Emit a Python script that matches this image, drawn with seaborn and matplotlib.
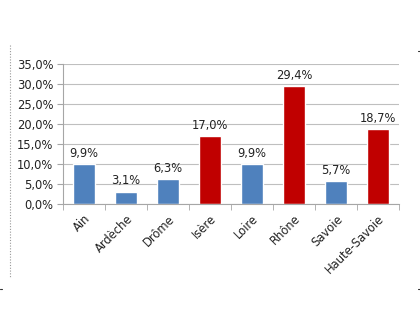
import matplotlib
matplotlib.use("Agg")
import matplotlib.pyplot as plt
import seaborn as sns
import pandas as pd
import numpy as np
from matplotlib.lines import Line2D

departements = ["Ain", "Ardèche", "Drôme", "Isère", "Loire", "Rhône", "Savoie", "Haute-Savoie"]
valeurs = [9.9, 3.1, 6.3, 17.0, 9.9, 29.4, 5.7, 18.7]
groupes = ["b", "b", "b", "r", "b", "r", "b", "r"]
yticks = [0, 5, 10, 15, 20, 25, 30, 35]

sns.set_style("white")
plt.rcParams['font.family'] = ['DejaVu Sans']
FS = 8.3

df = pd.DataFrame({"dep": departements, "val": valeurs, "grp": groupes})
fig = plt.figure(figsize=(4.2, 3.11), dpi=100)
ax = fig.add_axes([0.15, 0.344, 0.80, 0.45])
sns.barplot(data=df, x="dep", y="val", hue="grp", dodge=False,
            palette={"b": "#4F81BD", "r": "#C00000"}, width=0.53,
            legend=False, ax=ax, saturation=1)
for c in ax.containers:
    labels = [f"{v:.1f}%".replace(".", ",") if not np.isnan(v) and v > 0 else "" for v in c.datavalues]
    ax.bar_label(c, labels=labels, padding=3, fontsize=FS, color="#222222")

ax.set_ylim(0, 35)
ax.set_xlim(-0.5, len(departements) - 0.5)
ax.set_yticks(yticks)
ax.set_yticklabels([f"{t:.1f}%".replace(".", ",") for t in yticks], fontsize=FS, color="#222222")
ax.set_xticks(range(len(departements)))
ax.set_xticklabels(departements, rotation=45, ha="right", rotation_mode="anchor", fontsize=FS, color="#222222")
ax.set_xlabel("")
ax.set_ylabel("")
ax.yaxis.grid(True, color="#BFBFBF", linewidth=0.8)
ax.set_axisbelow(True)
for s in ["top", "right"]:
    ax.spines[s].set_visible(False)
for s in ["left", "bottom"]:
    ax.spines[s].set_color("#A6A6A6")
    ax.spines[s].set_linewidth(0.8)
ax.tick_params(axis="x", length=0, pad=6)
ax.tick_params(axis="y", length=4, color="#A6A6A6", left=True, direction="out", pad=3)
ax.set_xticks(np.arange(-0.5, len(departements), 1), minor=True)
ax.tick_params(axis="x", which="minor", length=4, color="#A6A6A6", bottom=True, direction="out")

fig.add_artist(Line2D([10/420, 10/420], [1-45/311, 1-278/311], color="#999999",
                      linewidth=0.8, linestyle=(0, (1, 1.5)), transform=fig.transFigure))
for (x0, x1, y) in [(0, 2/420, 1-289/311), (418/420, 1, 1-289/311), (418/420, 1, 1-51/311)]:
    fig.add_artist(Line2D([x0, x1], [y, y], color="#333333", linewidth=0.8, transform=fig.transFigure))
fig.savefig("out.png", dpi=100)
